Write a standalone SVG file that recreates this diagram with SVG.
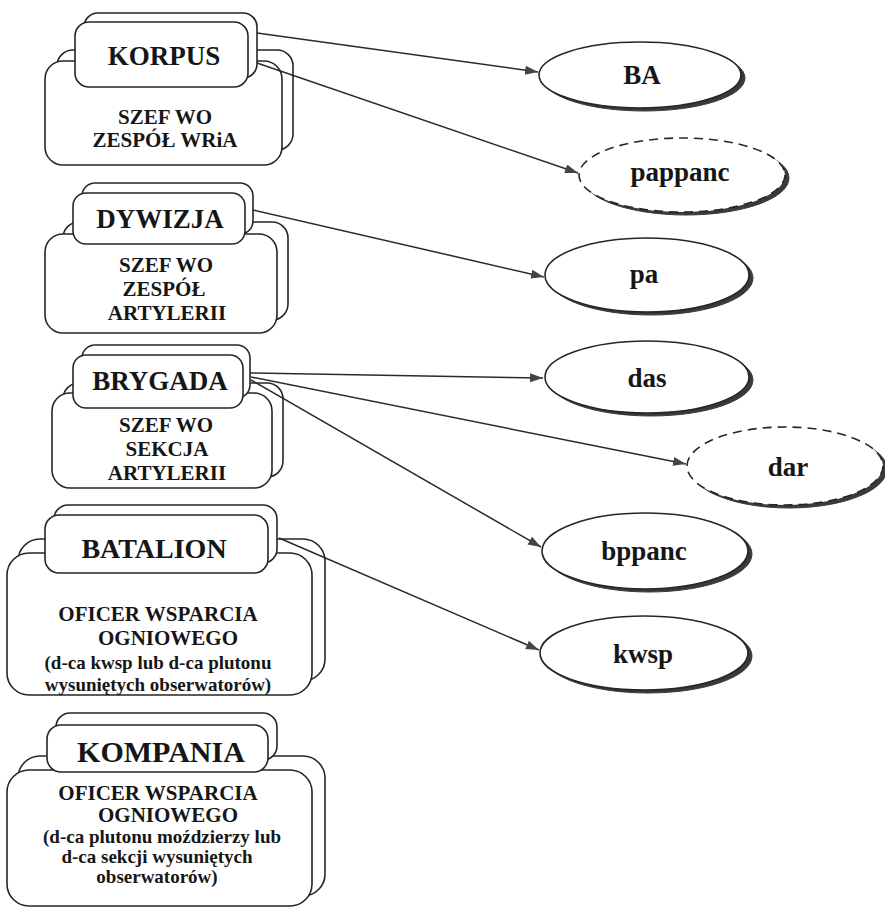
<svg xmlns="http://www.w3.org/2000/svg" width="885" height="909" viewBox="0 0 885 909">
<defs>
<style>
.bx{fill:#fff;stroke:#262626;stroke-width:1.6}
.t{font-family:"Liberation Serif","Times New Roman",serif;font-weight:bold;fill:#161616;text-anchor:middle}
.h{font-size:27px}
.b{font-size:21px}
.s{font-size:19px}
.sh{fill:#3a3a3a;stroke:#3a3a3a;stroke-width:1}
.el{fill:#fff;stroke:#262626;stroke-width:1.6}
.dash{stroke-dasharray:9 6}
.c{stroke:#2a2a2a;stroke-width:1.5;fill:none;marker-end:url(#ah)}
</style>
<marker id="ah" markerUnits="userSpaceOnUse" markerWidth="14" markerHeight="10" refX="13" refY="4.5" orient="auto">
<path d="M0,0 L13,4.5 L0,9 z" fill="#444"/>
</marker>
</defs>
<rect width="885" height="909" fill="#fff"/>

<g id="korpus">
<rect class="bx" x="57" y="50" width="236" height="100" rx="16"/>
<rect class="bx" x="45" y="61" width="237" height="104" rx="18"/>
<rect class="bx" x="84" y="13" width="173" height="65" rx="14"/>
<rect class="bx" x="75" y="22" width="173" height="65" rx="14"/>
<text class="t h" x="164" y="65">KORPUS</text>
<text class="t b" x="165" y="124">SZEF WO</text>
<text class="t b" x="165" y="147">ZESPÓŁ WRiA</text>
</g>

<g id="dywizja">
<rect class="bx" x="63" y="222" width="225" height="98" rx="16"/>
<rect class="bx" x="45" y="234" width="232" height="99" rx="18"/>
<rect class="bx" x="82" y="183" width="171" height="51" rx="13"/>
<rect class="bx" x="73" y="193" width="172" height="51" rx="13"/>
<text class="t h" x="160" y="228">DYWIZJA</text>
<text class="t b" x="166" y="272">SZEF WO</text>
<text class="t b" x="164" y="296">ZESPÓŁ</text>
<text class="t b" x="167" y="320">ARTYLERII</text>
</g>

<g id="brygada">
<rect class="bx" x="63" y="383" width="220" height="94" rx="16"/>
<rect class="bx" x="52" y="393" width="220" height="95" rx="18"/>
<rect class="bx" x="82" y="345" width="168" height="53" rx="13"/>
<rect class="bx" x="73" y="355" width="170" height="53" rx="13"/>
<text class="t h" x="160" y="390">BRYGADA</text>
<text class="t b" x="166" y="432">SZEF WO</text>
<text class="t b" x="167" y="456">SEKCJA</text>
<text class="t b" x="167" y="480">ARTYLERII</text>
</g>

<g id="batalion">
<rect class="bx" x="18" y="539" width="307" height="142" rx="22"/>
<rect class="bx" x="7" y="553" width="305" height="142" rx="22"/>
<rect class="bx" x="54" y="505" width="223" height="58" rx="14"/>
<rect class="bx" x="45" y="515" width="223" height="58" rx="14"/>
<text class="t h" x="154" y="558" style="font-size:28px">BATALION</text>
<text class="t b" x="158" y="621">OFICER WSPARCIA</text>
<text class="t b" x="168" y="645">OGNIOWEGO</text>
<text class="t s" x="158" y="669">(d-ca kwsp lub d-ca plutonu</text>
<text class="t s" x="158" y="691">wysuniętych obserwatorów)</text>
</g>

<g id="kompania">
<rect class="bx" x="18" y="756" width="307" height="140" rx="22"/>
<rect class="bx" x="7" y="770" width="305" height="136" rx="22"/>
<rect class="bx" x="56" y="713" width="221" height="47" rx="14"/>
<rect class="bx" x="47" y="725" width="221" height="47" rx="14"/>
<text class="t" x="161" y="762" style="font-size:30px">KOMPANIA</text>
<text class="t b" x="158" y="800">OFICER WSPARCIA</text>
<text class="t b" x="168" y="822">OGNIOWEGO</text>
<text class="t s" x="162" y="843">(d-ca plutonu moździerzy lub</text>
<text class="t s" x="157" y="863">d-ca sekcji wysuniętych</text>
<text class="t s" x="157" y="883">obserwatorów)</text>
</g>

<g id="ba">
<ellipse class="sh" cx="644" cy="78" rx="101" ry="33"/>
<ellipse class="el" cx="640" cy="75" rx="101" ry="33"/>
<text class="t h" x="642" y="84">BA</text>
</g>
<g id="pappanc">
<ellipse class="sh" cx="686" cy="178" rx="103" ry="37"/>
<ellipse class="el dash" cx="682" cy="175" rx="103" ry="37"/>
<text class="t h" x="680" y="181">pappanc</text>
</g>
<g id="pa">
<ellipse class="sh" cx="651" cy="278" rx="102" ry="37"/>
<ellipse class="el" cx="647" cy="275" rx="102" ry="37"/>
<text class="t h" x="644" y="283">pa</text>
</g>
<g id="das">
<ellipse class="sh" cx="651" cy="380" rx="102" ry="36"/>
<ellipse class="el" cx="647" cy="377" rx="102" ry="36"/>
<text class="t h" x="647" y="387">das</text>
</g>
<g id="dar">
<ellipse class="sh" cx="789" cy="469" rx="98" ry="39"/>
<ellipse class="el dash" cx="785" cy="466" rx="98" ry="39"/>
<text class="t h" x="788" y="476">dar</text>
</g>
<g id="bppanc">
<ellipse class="sh" cx="649" cy="554" rx="103" ry="38"/>
<ellipse class="el" cx="645" cy="551" rx="103" ry="38"/>
<text class="t h" x="644" y="560">bppanc</text>
</g>
<g id="kwsp">
<ellipse class="sh" cx="648" cy="656" rx="104" ry="37"/>
<ellipse class="el" cx="644" cy="653" rx="104" ry="37"/>
<text class="t h" x="643" y="663">kwsp</text>
</g>

<g id="connectors">
<line class="c" x1="257" y1="33" x2="538" y2="72"/>
<line class="c" x1="257" y1="63" x2="578" y2="173"/>
<line class="c" x1="253" y1="210" x2="544" y2="277"/>
<line class="c" x1="250" y1="373" x2="543" y2="378"/>
<line class="c" x1="251" y1="377" x2="686" y2="464"/>
<line class="c" x1="251" y1="380" x2="541" y2="547"/>
<line class="c" x1="279" y1="538" x2="539" y2="650"/>
</g>
</svg>
